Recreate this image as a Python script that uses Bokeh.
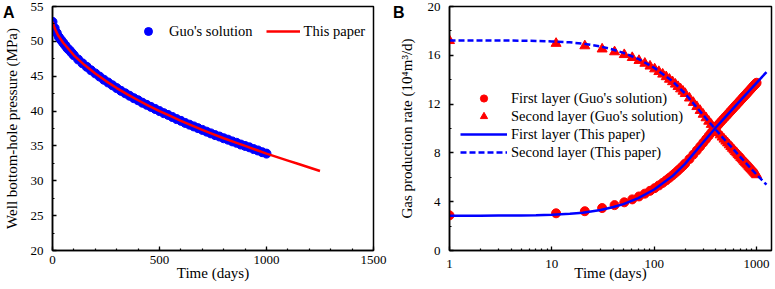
from bokeh.plotting import figure
from bokeh.layouts import row, column
from bokeh.models import (Range1d, SingleIntervalTicker, FixedTicker, Legend,
                          LegendItem, Div, NumeralTickFormatter)
from bokeh.embed import file_html
from bokeh.resources import INLINE

SERIF = "Liberation Serif"
BLUE = "#0000FF"
RED = "#FF0000"

# ---------------- Panel A data ----------------
a_guo_t = [0, 10, 20, 30, 40, 50, 60, 70, 80, 90, 100, 120, 140, 160, 180, 200,
           220, 240, 260, 280, 300, 320, 340, 360, 380, 400, 420, 440, 460, 480,
           500, 520, 540, 560, 580, 600, 620, 640, 660, 680, 700, 720, 740, 760,
           780, 800, 820, 840, 860, 880, 900, 920, 940, 960, 980, 1000]
a_guo_p = [52.8, 51.9, 51.2, 50.6, 50.2, 49.8, 49.4, 49.0, 48.7, 48.35, 48.0,
           47.4, 46.85, 46.35, 45.85, 45.4, 44.95, 44.5, 44.1, 43.7, 43.3, 42.9,
           42.55, 42.2, 41.85, 41.55, 41.2, 40.9, 40.6, 40.3, 40.0, 39.7, 39.45,
           39.15, 38.85, 38.6, 38.3, 38.05, 37.8, 37.55, 37.3, 37.05, 36.8, 36.55,
           36.35, 36.1, 35.9, 35.65, 35.45, 35.2, 35.0, 34.8, 34.55, 34.35, 34.1,
           33.9]
a_line_t = [0, 10, 25, 50, 100, 150, 200, 250, 300, 350, 400, 450, 500, 550, 600,
            650, 700, 750, 800, 850, 900, 950, 1000, 1050, 1100, 1150, 1200, 1250]
a_line_p = [52.8, 51.9, 50.9, 49.8, 48.0, 46.6, 45.4, 44.3, 43.3, 42.4, 41.55,
            40.75, 40.0, 39.3, 38.6, 37.95, 37.3, 36.7, 36.1, 35.55, 35.0, 34.45,
            33.9, 33.4, 32.9, 32.4, 31.9, 31.4]

# ---------------- Panel B data ----------------
b_guo_t = [1, 11, 21, 31, 41, 51, 61, 71, 81, 91, 101, 111, 121, 131, 141, 151,
           161, 171, 181, 191, 201, 221, 241, 261, 281, 301, 321, 341, 361, 381,
           401, 421, 441, 461, 481, 501, 521, 541, 561, 581, 601, 621, 641, 661,
           681, 701, 721, 741, 761, 781, 801, 821, 841, 861, 881, 901, 921, 941,
           961, 981, 1001]
b_guo_q1 = [2.88, 3.05, 3.22, 3.48, 3.72, 3.95, 4.19, 4.43, 4.66, 4.89, 5.11,
            5.33, 5.54, 5.75, 5.96, 6.16, 6.36, 6.56, 6.75, 6.94, 7.13, 7.50,
            7.86, 8.20, 8.52, 8.83, 9.12, 9.40, 9.66, 9.91, 10.14, 10.29, 10.48,
            10.66, 10.83, 10.99, 11.14, 11.30, 11.44, 11.58, 11.72, 11.85, 11.97,
            12.10, 12.21, 12.33, 12.44, 12.55, 12.66, 12.76, 12.86, 12.96, 13.06,
            13.15, 13.24, 13.33, 13.42, 13.51, 13.59, 13.67, 13.75]
b_guo_q2 = [17.20, 16.97, 16.77, 16.51, 16.28, 16.05, 15.81, 15.57, 15.34, 15.11,
            14.88, 14.66, 14.45, 14.24, 14.03, 13.83, 13.63, 13.43, 13.24, 13.05,
            12.86, 12.49, 12.13, 11.79, 11.47, 11.16, 10.87, 10.59, 10.33, 10.08,
            9.85, 9.66, 9.47, 9.29, 9.12, 8.96, 8.81, 8.65, 8.51, 8.37, 8.23, 8.10,
            7.98, 7.85, 7.74, 7.62, 7.51, 7.40, 7.29, 7.19, 7.09, 6.99, 6.89, 6.80,
            6.71, 6.62, 6.53, 6.44, 6.36, 6.28, 6.20]
b_line_t = [1, 2, 3, 5, 7, 10, 15, 20, 30, 40, 50, 70, 100, 150, 200, 300, 400,
            500, 700, 1000, 1250]
b_line_q1 = [2.85, 2.85, 2.86, 2.87, 2.89, 2.93, 3.01, 3.10, 3.32, 3.56, 3.80,
             4.30, 5.00, 6.08, 7.10, 8.85, 10.08, 10.98, 12.32, 13.74, 14.62]
b_line_q2 = [17.22, 17.22, 17.21, 17.20, 17.18, 17.14, 17.06, 16.96, 16.72, 16.46,
             16.20, 15.70, 14.98, 13.90, 12.88, 11.12, 9.90, 8.98, 7.64, 6.22, 5.40]

b_major = [1, 10, 100, 1000]
b_minor = [2, 3, 4, 5, 6, 7, 8, 9, 20, 30, 40, 50, 60, 70, 80, 90,
           200, 300, 400, 500, 600, 700, 800, 900]

panel_letters = ["A", "B"]


def style(p, xstand, xlab_stand, ylab_stand):
    p.grid.visible = False
    p.outline_line_color = "black"
    p.outline_line_width = 1.5
    p.outline_line_alpha = 1.0
    p.background_fill_color = "white"
    p.border_fill_color = None
    for ax in p.axis:
        ax.axis_line_width = 1.5
        ax.axis_line_color = "black"
        ax.major_tick_in = 4
        ax.major_tick_out = 0
        ax.minor_tick_in = 2
        ax.minor_tick_out = 0
        ax.major_tick_line_width = 1.3
        ax.minor_tick_line_width = 1.2
        ax.major_tick_line_color = "black"
        ax.minor_tick_line_color = "black"
        ax.major_label_text_font = SERIF
        ax.major_label_text_font_size = "13px"
        ax.major_label_text_color = "black"
        ax.axis_label_text_font = SERIF
        ax.axis_label_text_font_size = "15px"
        ax.axis_label_text_font_style = "normal"
        ax.axis_label_text_color = "black"
    p.xaxis.major_label_standoff = xstand
    p.xaxis.axis_label_standoff = xlab_stand
    p.yaxis.major_label_standoff = 9
    p.yaxis.axis_label_standoff = ylab_stand


# ---------------- Panel A ----------------
pA = figure(width=390, height=289, x_range=Range1d(0, 1500), y_range=Range1d(20, 55),
            output_backend="svg", toolbar_location=None,
            min_border_left=51, min_border_right=17, min_border_top=6,
            min_border_bottom=39)
style(pA, 5, -2, 8)
pA.xaxis.ticker = SingleIntervalTicker(interval=500, num_minor_ticks=5)
pA.yaxis.ticker = SingleIntervalTicker(interval=5, num_minor_ticks=2)
pA.xaxis.axis_label = "Time (days)"
pA.yaxis.axis_label = "Well bottom-hole pressure (MPa)"

rA_sc = pA.scatter(a_guo_t, a_guo_p, marker="circle", size=9,
                   fill_color=BLUE, line_color=BLUE)
rA_ln = pA.line(a_line_t, a_line_p, line_color=RED, line_width=2.5)

legA = Legend(items=[LegendItem(label="Guo's solution", renderers=[rA_sc]),
                     LegendItem(label="This paper", renderers=[rA_ln])],
              orientation="horizontal", location=(79, 209), padding=0, margin=0,
              spacing=13, glyph_width=34, glyph_height=20, label_standoff=4,
              border_line_color=None, background_fill_alpha=0,
              label_text_font=SERIF, label_text_font_size="14.5px",
              label_text_color="black")
pA.add_layout(legA)

# ---------------- Panel B ----------------
pB = figure(width=385, height=289, x_axis_type="log", x_range=Range1d(1, 1400),
            y_range=Range1d(0, 20), output_backend="svg", toolbar_location=None,
            min_border_left=59, min_border_right=4, min_border_top=6,
            min_border_bottom=39)
style(pB, 9, -6, 10)
pB.xaxis.ticker = FixedTicker(ticks=b_major, minor_ticks=b_minor)
pB.xaxis.formatter = NumeralTickFormatter(format="0")
pB.yaxis.ticker = SingleIntervalTicker(interval=4, num_minor_ticks=2)
pB.xaxis.axis_label = "Time (days)"
pB.yaxis.axis_label = "Gas production rate (10\u2074m\u00b3/d)"

rB1 = pB.scatter(b_guo_t, b_guo_q1, marker="circle", size=9,
                 fill_color=RED, line_color=RED)
rB2 = pB.scatter(b_guo_t, b_guo_q2, marker="triangle", size=10,
                 fill_color=RED, line_color=RED)
rB3 = pB.line(b_line_t, b_line_q1, line_color=BLUE, line_width=2.5)
rB4 = pB.line(b_line_t, b_line_q2, line_color=BLUE, line_width=2.5, line_dash="6 3")

legB = Legend(items=[LegendItem(label="First layer (Guo's solution)", renderers=[rB1]),
                     LegendItem(label="Second layer (Guo's solution)", renderers=[rB2]),
                     LegendItem(label="First layer (This paper)", renderers=[rB3]),
                     LegendItem(label="Second layer (This paper)", renderers=[rB4])],
              orientation="vertical", location=(11, 89), padding=0, margin=0,
              spacing=0, glyph_width=47, glyph_height=18, label_height=18,
              label_standoff=4, border_line_color=None, background_fill_alpha=0,
              label_text_font=SERIF, label_text_font_size="14.5px",
              label_text_color="black")
pB.add_layout(legB)

# ---------------- panel letters (HTML overlay behind transparent borders) -------
span_style = ("position:absolute;top:5px;font-family:'Liberation Sans',Arial,sans-serif;"
              "font-weight:bold;font-size:16px;line-height:16px;color:#000;")
letters_html = ('<div style="position:relative;width:775px;height:22px;">'
                f'<span style="{span_style}left:3px;">{panel_letters[0]}</span>'
                f'<span style="{span_style}left:393px;">{panel_letters[1]}</span>'
                '</div>')
letters = Div(text=letters_html, width=775, height=22, margin=(0, 0, -22, 0))

layout = column(letters, row(pA, pB))
open("out.html", "w").write(file_html(layout, INLINE))
